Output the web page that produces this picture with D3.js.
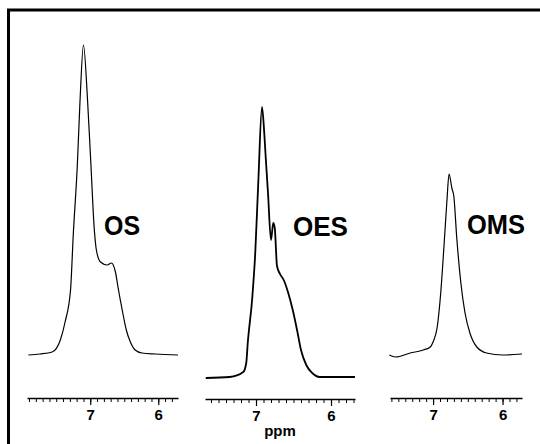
<!DOCTYPE html>
<html>
<head>
<meta charset="utf-8">
<script src="https://cdn.jsdelivr.net/npm/d3@7"></script>
<style>
  body { margin: 0; background: #fff; }
  svg { display: block; }
  text { font-family: "Liberation Sans", Arial, sans-serif; font-weight: bold; }
</style>
</head>
<body>
<script>
// chart size
const largeur = 540;
const hauteur = 444;

// spectra: ppm and intensity above baseline
const osPpm = [7.91, 7.74, 7.56, 7.44, 7.37, 7.29, 7.25, 7.19, 7.15, 7.10, 7.04, 6.99, 6.94, 6.91, 6.85, 6.75, 6.69, 6.63, 6.59, 6.53, 6.47, 6.41, 6.34, 6.24, 6.04, 5.71];
const osInt = [0, 1, 3, 15, 33, 65, 120, 190, 255, 310, 255, 190, 125, 105, 93, 90, 92, 83, 67, 45, 25, 13, 5, 2, 1, 0];

const oesPpm = [7.67, 7.35, 7.17, 7.13, 7.11, 7.05, 7.01, 6.97, 6.92, 6.89, 6.87, 6.84, 6.80, 6.77, 6.75, 6.72, 6.68, 6.63, 6.57, 6.51, 6.45, 6.40, 6.33, 6.25, 6.15, 5.68];
const oesInt = [0, 1, 6, 15, 35, 80, 125, 195, 271, 245, 220, 185, 138, 155, 150, 112, 104, 98, 85, 68, 47, 28, 13, 5, 1, 1];

const omsPpm = [7.63, 7.54, 7.33, 7.14, 7.04, 7.00, 6.94, 6.89, 6.84, 6.80, 6.77, 6.73, 6.70, 6.66, 6.60, 6.54, 6.47, 6.37, 6.23, 6.00, 5.72];
const omsInt = [0, -2, 2, 5, 8, 13, 28, 62, 112, 155, 181, 167, 158, 118, 72, 42, 22, 8, 2, 0, 1];

// names and ticks
const noms = ["OS", "OES", "OMS"];
const ticksMajeurs = [7, 6];

// panel frames (pixel placement only)
const panneaux = [
  { nom: noms[0], ppm: osPpm, val: osInt, x0: 27, x1: 178, dom: [7.93, 5.71], base: 355, axeY: 398, lw: 1.2, lx: 104, lab: 235 },
  { nom: noms[1], ppm: oesPpm, val: oesInt, x0: 205, x1: 355, dom: [7.68, 5.68], base: 378, axeY: 399, lw: 1.8, lx: 293, lab: 236 },
  { nom: noms[2], ppm: omsPpm, val: omsInt, x0: 390, x1: 522, dom: [7.62, 5.72], base: 355, axeY: 398, lw: 1.2, lx: 467, lab: 234 }
];

const svg = d3.select("body")
  .append("svg")
  .attr("width", largeur)
  .attr("height", hauteur);

// le cadre
svg.append("line")
  .attr("x1", 7).attr("y1", 10).attr("x2", largeur).attr("y2", 10)
  .attr("stroke", "#000").attr("stroke-width", 3);
svg.append("line")
  .attr("x1", 8.5).attr("y1", 9).attr("x2", 8.5).attr("y2", hauteur)
  .attr("stroke", "#000").attr("stroke-width", 3);

panneaux.forEach(p => {
  const x = d3.scaleLinear().domain(p.dom).range([p.x0, p.x1]);
  const y = d3.scaleLinear().domain([0, 300]).range([p.base, p.base - 300]);

  const pts = p.ppm.map((v, i) => [v, p.val[i]]);
  const ligne = d3.line()
    .x(d => x(d[0]))
    .y(d => y(d[1]))
    .curve(d3.curveMonotoneX);

  svg.append("path")
    .datum(pts)
    .attr("d", ligne)
    .attr("fill", "none")
    .attr("stroke", "#000")
    .attr("stroke-width", p.lw)
    .attr("stroke-linejoin", "round");

  // minor ticks every 0.1 ppm
  const axeMin = svg.append("g")
    .attr("transform", `translate(0,${p.axeY})`)
    .call(d3.axisBottom(x).ticks(20).tickSize(4).tickSizeOuter(0).tickFormat(""));
  axeMin.select(".domain").attr("stroke-width", 1.6);
  axeMin.selectAll(".tick line").attr("stroke-width", 1);

  // major ticks with labels
  const axeMaj = svg.append("g")
    .attr("transform", `translate(0,${p.axeY})`)
    .call(d3.axisBottom(x).tickValues(ticksMajeurs).tickSize(7).tickPadding(4).tickFormat(d3.format("d")));
  axeMaj.select(".domain").remove();
  axeMaj.selectAll(".tick line").attr("stroke-width", 1.2);
  axeMaj.selectAll("text")
    .style("font-size", "15px")
    .style("font-weight", "bold")
    .attr("fill", "#000");

  svg.append("text")
    .attr("x", p.lx)
    .attr("y", p.lab)
    .style("font-size", "27px")
    .attr("textLength", p.nom.length === 2 ? 36 : (p.nom === "OES" ? 55 : 58))
    .attr("lengthAdjust", "spacingAndGlyphs")
    .text(p.nom);
});

svg.append("text")
  .attr("x", 280)
  .attr("y", 436)
  .attr("text-anchor", "middle")
  .style("font-size", "15px")
  .text("ppm");
</script>
</body>
</html>
